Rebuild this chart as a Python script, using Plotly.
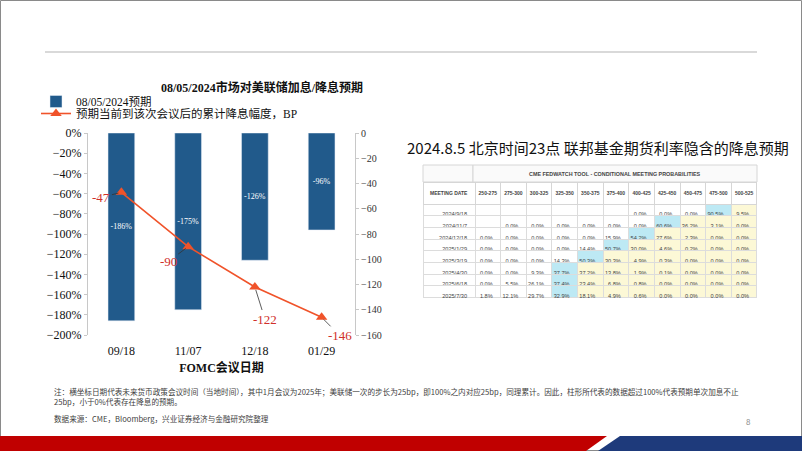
import plotly.graph_objects as go

W, H = 802, 451

# ---------------- data ----------------
meetings = ["09/18", "11/07", "12/18", "01/29"]
hike_cut_pct = [-186, -175, -126, -96]          # bar: 08/05/2024预期 (%)
cum_cut_bp = [-47, -90, -122, -146]              # line: 累计降息幅度 BP

table_title = "CME FEDWATCH TOOL - CONDITIONAL MEETING PROBABILITIES"
rate_ranges = ["250-275", "275-300", "300-325", "325-350", "350-375", "375-400",
               "400-425", "425-450", "450-475", "475-500", "500-525"]
meeting_dates = ["2024/9/18", "2024/11/7", "2024/12/18", "2025/1/29",
                 "2025/3/19", "2025/4/30", "2025/6/18", "2025/7/30"]
prob_0918 = [None, None, None, None, None, None, 0.0, 0.0, 0.0, 90.5, 9.5]
prob_1107 = [None, 0.0, 0.0, 0.0, 0.0, 0.0, 0.0, 60.6, 36.2, 3.1, 0.0]
prob_1218 = [0.0, 0.0, 0.0, 0.0, 0.0, 15.9, 54.2, 27.6, 2.3, 0.0, 0.0]
prob_0129 = [0.0, 0.0, 0.0, 0.0, 14.4, 50.7, 30.0, 4.6, 0.2, 0.0, 0.0]
prob_0319 = [0.0, 0.0, 0.0, 14.3, 50.3, 30.3, 4.9, 0.3, 0.0, 0.0, 0.0]
prob_0430 = [0.0, 0.0, 9.3, 37.7, 37.2, 13.8, 1.9, 0.1, 0.0, 0.0, 0.0]
prob_0618 = [0.0, 5.5, 26.1, 37.4, 23.4, 6.8, 0.8, 0.0, 0.0, 0.0, 0.0]
prob_0730 = [1.8, 12.1, 29.7, 32.9, 18.1, 4.9, 0.6, 0.0, 0.0, 0.0, 0.0]
prob_rows = [prob_0918, prob_1107, prob_1218, prob_0129,
             prob_0319, prob_0430, prob_0618, prob_0730]


def px(x):
    return x / W


def py(y):
    return 1 - y / H


SERIF = "Liberation Serif, Times New Roman, Noto Sans CJK SC, serif"
CJK = "Noto Sans CJK SC, sans-serif"
BAR_C = "#215a8b"
LINE_C = "#f0532a"
LBL_C = "#d0302a"
BLUE_CELL = "#bde9f4"
YEL_CELL = "#fcf8d6"

fig = go.Figure()

fig.add_trace(go.Bar(
    x=meetings, y=hike_cut_pct, name="08/05/2024预期",
    marker=dict(color=BAR_C), width=0.4,
    text=[f"{v}%" for v in hike_cut_pct], textposition="inside",
    insidetextanchor="middle", textangle=0, constraintext="none",
    textfont=dict(family=SERIF, size=8, color="white"),
    legend="legend", yaxis="y",
))
fig.add_trace(go.Scatter(
    x=meetings, y=cum_cut_bp, name="预期当前到该次会议后的累计降息幅度，BP",
    mode="lines+markers", line=dict(color=LINE_C, width=1.6),
    marker=dict(symbol="triangle-up", size=10, color=LINE_C),
    yaxis="y2", legend="legend2",
))

# ---------- table ----------
n_cols = len(rate_ranges)
cell_vals = [meeting_dates]
cell_fill = [["white"] * len(meeting_dates)]
col_fills = [[] for _ in range(n_cols)]
col_vals = [[] for _ in range(n_cols)]
for row in prob_rows:
    vals = [v if v is not None else -1 for v in row]
    imax = vals.index(max(vals))
    for j, v in enumerate(row):
        col_vals[j].append("" if v is None else f"{v:.1f}%")
        if j == imax:
            col_fills[j].append(BLUE_CELL)
        elif j > imax:
            col_fills[j].append(YEL_CELL)
        else:
            col_fills[j].append("white")
cell_vals += col_vals
cell_fill += col_fills

fig.add_trace(go.Table(
    domain=dict(x=[px(423), px(757)], y=[py(300), py(182)]),
    columnwidth=[52] + [25.6] * n_cols,
    header=dict(
        values=["<b>MEETING\u00a0DATE</b>"] + [f"<b>{r}</b>" for r in rate_ranges],
        fill_color="white", line_color="#d6d6d6", line_width=1,
        font=dict(family="Liberation Sans, Arial", size=5.0, color="#444"),
        align="center", height=17,
    ),
    cells=dict(
        values=cell_vals, fill_color=cell_fill,
        line_color="#dcdcdc", line_width=1,
        font=dict(family="Liberation Sans, Arial", size=5.6, color="#444"),
        align="right", height=11.7,
    ),
))

shapes = [
    # slide frame
    dict(type="rect", xref="paper", yref="paper", x0=px(0.5), x1=px(801.5),
         y0=py(450.5), y1=py(0.5), line=dict(color="#8a8a8a", width=1)),
    # top rule
    dict(type="line", xref="paper", yref="paper", x0=px(45), x1=px(757),
         y0=py(52), y1=py(52), line=dict(color="#d9d9d9", width=2)),
    # bottom band
    dict(type="path", xref="paper", yref="paper",
         path=f"M 0,{py(436)} L {px(607)},{py(436)} L {px(586)},{py(451)} L 0,{py(451)} Z",
         fillcolor="#c00000", line=dict(width=0)),
    dict(type="path", xref="paper", yref="paper",
         path=f"M {px(620)},{py(436)} L 1,{py(436)} L 1,{py(451)} L {px(598)},{py(451)} Z",
         fillcolor="#1e3a7b", line=dict(width=0)),
    # table title row
    dict(type="rect", xref="paper", yref="paper", x0=px(423), x1=px(473),
         y0=py(182), y1=py(165), fillcolor="#fafafa", line=dict(color="#d6d6d6", width=1)),
    dict(type="rect", xref="paper", yref="paper", x0=px(473), x1=px(757),
         y0=py(182), y1=py(165), fillcolor="#fafafa", line=dict(color="#d6d6d6", width=1)),
]


def pa(text, x, y, size, family=CJK, color="#111", xanchor="center"):
    return dict(text=text, x=px(x), y=py(y), xref="paper", yref="paper",
                xanchor=xanchor, yanchor="middle", showarrow=False,
                font=dict(family=family, size=size, color=color))


annotations = [
    pa("<b>08/05/2024市场对美联储加息/降息预期</b>", 262, 88, 12, SERIF),
    pa("2024.8.5 北京时间23点 联邦基金期货利率隐含的降息预期", 598, 147, 15),
    pa(f"<b>{table_title}</b>", 615, 174, 5.4, "Liberation Sans, Arial", "#444"),
    pa("注：横坐标日期代表未来货币政策会议时间（当地时间），其中1月会议为2025年；美联储一次的步长为25bp，即100%之内对应25bp，同理累计。因此，柱形所代表的数据超过100%代表预期单次加息不止",
       52, 391, 7.6, CJK, "#404040", "left"),
    pa("25bp，小于0%代表存在降息的预期。", 52, 401, 7.6, CJK, "#404040", "left"),
    pa("数据来源：CME，Bloomberg，兴业证券经济与金融研究院整理", 52, 418, 7.6, CJK, "#404040", "left"),
    pa("8", 748, 421, 8, CJK, "#8a8a8a"),
]

# line data labels with leader lines
offsets = [(-20, 5), (-20, 15), (10, 32), (18, 18)]
for xv, yv, (dx, dy) in zip(meetings, cum_cut_bp, offsets):
    annotations.append(dict(
        x=xv, y=yv, xref="x", yref="y2", text=str(yv), showarrow=True,
        arrowhead=0, arrowwidth=0.8, arrowcolor="#333", ax=dx, ay=dy, standoff=3,
        font=dict(family=SERIF, size=13, color=LBL_C),
    ))

fig.update_layout(
    width=W, height=H, autosize=False,
    margin=dict(l=0, r=0, t=0, b=0, autoexpand=False),
    paper_bgcolor="white", plot_bgcolor="white",
    showlegend=True,
    legend=dict(x=px(36), y=py(87), xanchor="left", yanchor="top",
                bgcolor="rgba(0,0,0,0)", font=dict(family=SERIF, size=11.5, color="#111"),
                itemwidth=30),
    legend2=dict(x=px(36), y=py(99), xanchor="left", yanchor="top",
                 bgcolor="rgba(0,0,0,0)", font=dict(family=SERIF, size=11.5, color="#111"),
                 itemwidth=30),
    xaxis=dict(domain=[px(88), px(355)], type="category", showline=False, ticks="outside",
               ticklen=5, tickcolor="rgba(0,0,0,0)",
               showgrid=False, zeroline=False, anchor="y", automargin=False,
               tickfont=dict(family=SERIF, size=12, color="#111"),
               title=dict(text="<b>FOMC会议日期</b>", standoff=6,
                          font=dict(family=SERIF, size=12, color="#111"))),
    yaxis=dict(domain=[py(335), py(133)], range=[-200, 0], dtick=20, ticksuffix="%",
               showline=True, linecolor="#c8c8c8", ticks="outside", ticklen=3,
               tickcolor="#c8c8c8", showgrid=False, zeroline=False, automargin=False,
               tickfont=dict(family=SERIF, size=12, color="#111")),
    yaxis2=dict(overlaying="y", side="right", anchor="x", range=[-160, 0], dtick=20,
                showline=True, linecolor="#c8c8c8", ticks="outside", ticklen=3,
                tickcolor="#c8c8c8", showgrid=False, zeroline=False, automargin=False,
                tickfont=dict(family=SERIF, size=10, color="#333")),
    shapes=shapes, annotations=annotations,
)

fig.write_html("out.html")
